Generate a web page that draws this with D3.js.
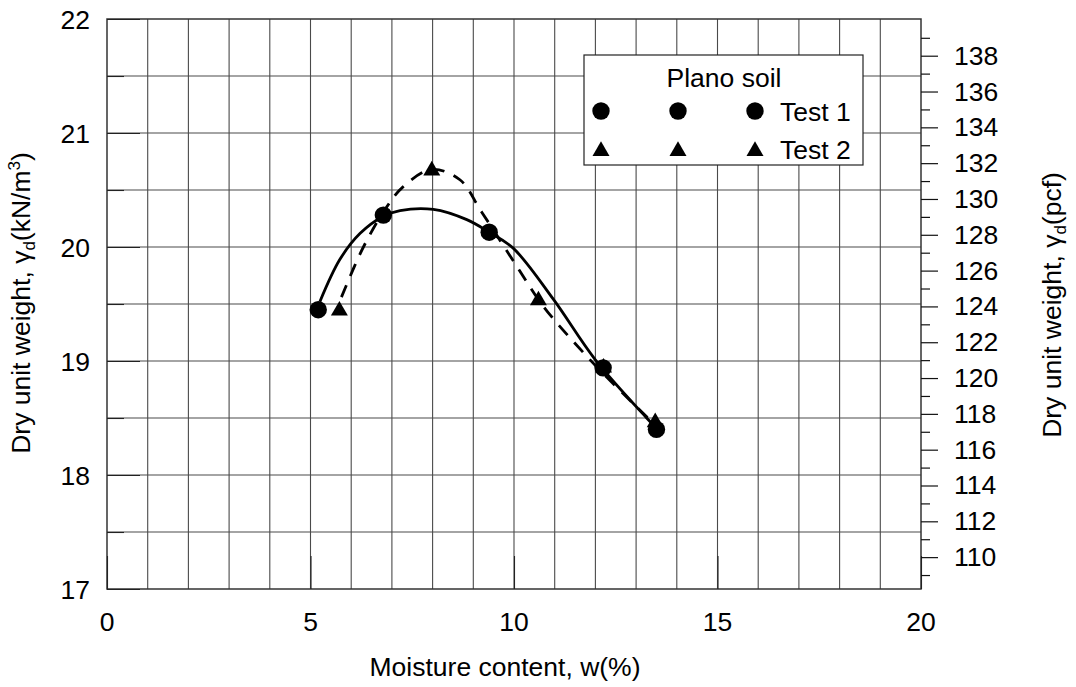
<!DOCTYPE html>
<html>
<head>
<meta charset="utf-8">
<script src="https://cdn.jsdelivr.net/npm/d3@7"></script>
<style>
  html, body { margin: 0; padding: 0; background: #fff; }
  svg text { font-family: "Liberation Sans", Arial, sans-serif; fill: #000; }
</style>
</head>
<body>
<svg id="chart" width="1076" height="687"></svg>
<script>
// ---- data ----
const test1W = [5.19, 6.79, 9.39, 12.19, 13.5];
const test1G = [19.45, 20.28, 20.13, 18.94, 18.40];
const test2W = [5.71, 7.98, 10.6, 12.2, 13.47];
const test2G = [19.45, 20.68, 19.54, 18.95, 18.47];
// fitted curves
const curve1W = [5.23, 5.72, 6.22, 6.79, 7.2, 8.02, 8.84, 9.39, 9.98, 10.97, 12.0, 13.26, 13.42];
const curve1G = [19.52, 19.89, 20.12, 20.27, 20.32, 20.33, 20.24, 20.13, 19.99, 19.54, 19.01, 18.50, 18.44];
const curve2W = [5.76, 6.3, 6.87, 7.28, 7.98, 8.67, 9.2, 10.07, 10.72, 11.46, 12.19, 13.26, 13.4];
const curve2G = [19.56, 20.0, 20.35, 20.53, 20.68, 20.59, 20.31, 19.83, 19.48, 19.17, 18.89, 18.51, 18.46];
const xTicks = [0, 5, 10, 15, 20];
const yTicks = [17, 18, 19, 20, 21, 22];
const pcfTicks = [110, 112, 114, 116, 118, 120, 122, 124, 126, 128, 130, 132, 134, 136, 138];
const pcfMinor = [109, 111, 113, 115, 117, 119, 121, 123, 125, 127, 129, 131, 133, 135, 137, 139];
const legendTitle = "Plano soil";
const seriesNames = ["Test 1", "Test 2"];
const kN2pcf = 6.3659;

// ---- layout ----
const L = 107, R = 921, T = 19, B = 589;
const svg = d3.select("#chart");
const x = d3.scaleLinear().domain([0, 20]).range([L, R]);
const y = d3.scaleLinear().domain([17, 22]).range([B, T]);
const yP = d3.scaleLinear().domain([17 * kN2pcf, 22 * kN2pcf]).range([B, T]);
const FS = 26.5;
const FONT = '"Liberation Sans", Arial, sans-serif';

// gridlines
const g = svg.append("g");
g.selectAll("line.v").data(d3.range(1, 20)).join("line")
  .attr("x1", d => x(d)).attr("x2", d => x(d)).attr("y1", T).attr("y2", B)
  .attr("stroke", "#4a4a4a").attr("stroke-width", 1.1);
g.selectAll("line.h").data(d3.range(17.5, 22, 0.5)).join("line")
  .attr("x1", L).attr("x2", R).attr("y1", d => y(d)).attr("y2", d => y(d))
  .attr("stroke", "#4a4a4a").attr("stroke-width", 1.1);

// frame
svg.append("rect").attr("x", L).attr("y", T).attr("width", R - L).attr("height", B - T)
  .attr("fill", "none").attr("stroke", "#333").attr("stroke-width", 1.5);

// left inward ticks
const gy = svg.append("g").attr("transform", `translate(${L},0)`)
  .call(d3.axisRight(y).tickValues(yTicks).tickSize(33).tickFormat(""));
gy.select(".domain").remove();
gy.selectAll("line").attr("stroke", "#222").attr("stroke-width", 1.1);
const gyMinor = svg.append("g").attr("transform", `translate(${L},0)`)
  .call(d3.axisRight(y).tickValues(d3.range(17.5, 22, 1)).tickSize(17).tickFormat(""));
gyMinor.select(".domain").remove();
gyMinor.selectAll("line").attr("stroke", "#222").attr("stroke-width", 1.1);
svg.selectAll("text.ylab").data(yTicks).join("text").attr("class", "ylab")
  .attr("x", L - 17).attr("y", d => y(d)).attr("dy", "0.36em")
  .attr("text-anchor", "end").attr("font-size", FS).text(d => d);

// bottom inward ticks
const gx = svg.append("g").attr("transform", `translate(0,${B})`)
  .call(d3.axisTop(x).tickValues(xTicks).tickSize(33).tickFormat(""));
gx.select(".domain").remove();
gx.selectAll("line").attr("stroke", "#222").attr("stroke-width", 1.1);
svg.selectAll("text.xlab").data(xTicks).join("text").attr("class", "xlab")
  .attr("x", d => x(d)).attr("y", 631)
  .attr("text-anchor", "middle").attr("font-size", FS).text(d => d);

// right axis (pcf)
const gr = svg.append("g").attr("transform", `translate(${R},0)`)
  .call(d3.axisRight(yP).tickValues(pcfTicks).tickSize(17).tickPadding(16).tickFormat(d => d));
gr.select(".domain").remove();
gr.selectAll("line").attr("stroke", "#111").attr("stroke-width", 1.2);
gr.selectAll("text").attr("font-size", FS).attr("font-family", FONT).attr("fill", "#000");
const grm = svg.append("g").attr("transform", `translate(${R},0)`)
  .call(d3.axisRight(yP).tickValues(pcfMinor).tickSize(9).tickFormat(""));
grm.select(".domain").remove();
grm.selectAll("line").attr("stroke", "#111").attr("stroke-width", 1.2);

// axis titles
svg.append("text").attr("x", (L + R) / 2 - 9).attr("y", 676).attr("text-anchor", "middle")
  .attr("font-size", FS).text("Moisture content, w(%)");
const lt = svg.append("text").attr("transform", "translate(30,303) rotate(-90)")
  .attr("font-size", FS).attr("text-anchor", "middle");
lt.append("tspan").text("Dry unit weight, γ");
lt.append("tspan").attr("font-size", 17).attr("dy", 5).text("d");
lt.append("tspan").attr("dy", -5).text("(kN/m");
lt.append("tspan").attr("font-size", 17).attr("dy", -10).text("3");
lt.append("tspan").attr("dy", 10).text(")");
const rt = svg.append("text").attr("transform", "translate(1061,305) rotate(-90)")
  .attr("font-size", FS).attr("text-anchor", "middle");
rt.append("tspan").text("Dry unit weight, γ");
rt.append("tspan").attr("font-size", 17).attr("dy", 5).text("d");
rt.append("tspan").attr("dy", -5).text("(pcf)");

// curves
const line = d3.line().x(d => x(d[0])).y(d => y(d[1])).curve(d3.curveCatmullRom.alpha(0.5));
svg.append("path").datum(curve2W.map((w, i) => [w, curve2G[i]])).attr("d", line)
  .attr("fill", "none").attr("stroke", "#000").attr("stroke-width", 2.8)
  .attr("stroke-dasharray", "13,10");
svg.append("path").datum(curve1W.map((w, i) => [w, curve1G[i]])).attr("d", line)
  .attr("fill", "none").attr("stroke", "#000").attr("stroke-width", 2.8);

// markers
const tri = d3.symbol().type(d3.symbolTriangle).size(125);
svg.selectAll("path.t2").data(test2W.map((w, i) => [w, test2G[i]])).join("path")
  .attr("class", "t2").attr("d", tri)
  .attr("transform", d => `translate(${x(d[0])},${y(d[1]) + 1})`).attr("fill", "#000");
svg.selectAll("circle.t1").data(test1W.map((w, i) => [w, test1G[i]])).join("circle")
  .attr("class", "t1").attr("cx", d => x(d[0])).attr("cy", d => y(d[1])).attr("r", 8.7)
  .attr("fill", "#000");

// legend
const lg = svg.append("g");
lg.append("rect").attr("x", 584).attr("y", 55).attr("width", 279).attr("height", 110)
  .attr("fill", "#fff").attr("stroke", "#222").attr("stroke-width", 1.2);
lg.append("text").attr("x", 724).attr("y", 87).attr("text-anchor", "middle")
  .attr("font-size", FS).text(legendTitle);
const lx = [601, 678, 755];
lg.selectAll("circle").data(lx).join("circle").attr("cx", d => d).attr("cy", 111)
  .attr("r", 8.7).attr("fill", "#000");
lg.selectAll("path").data(lx).join("path").attr("d", tri)
  .attr("transform", d => `translate(${d},${151})`).attr("fill", "#000");
lg.selectAll("text.ser").data(seriesNames).join("text").attr("class", "ser")
  .attr("x", 780).attr("y", (d, i) => 121 + i * 38).attr("font-size", FS).text(d => d);
</script>
</body>
</html>
